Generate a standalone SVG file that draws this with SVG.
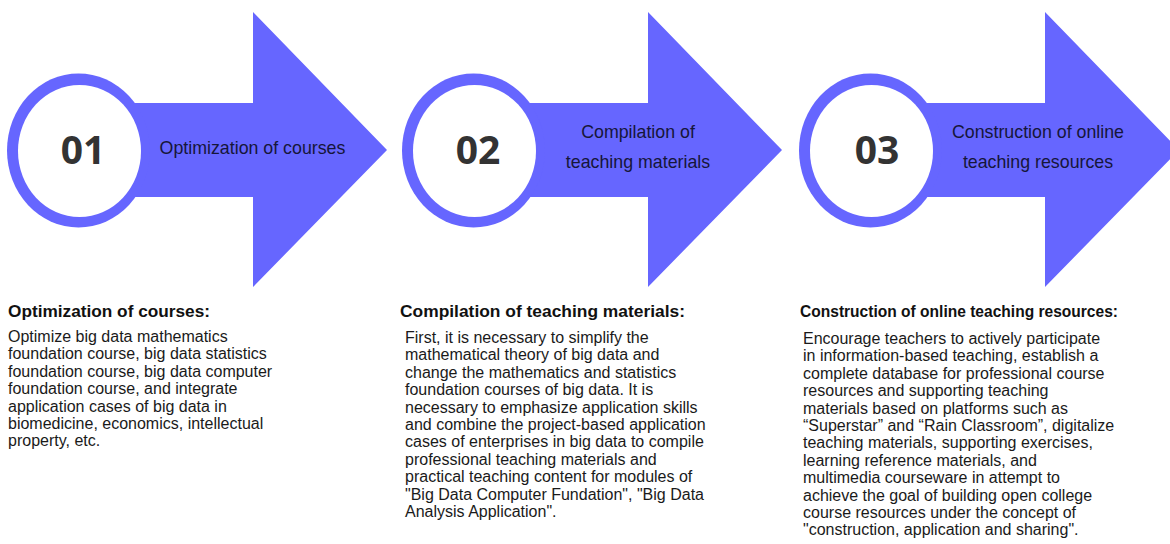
<svg xmlns="http://www.w3.org/2000/svg" width="1170" height="544" viewBox="0 0 1170 544">
  <defs>
    <style>
      .shape { fill: #6666FF; }
      .hole { fill: #FFFFFF; }
      .num { font-family: "Open Sans", "Noto Sans", sans-serif; font-weight: 700; font-size: 39px; fill: #333333; text-anchor: middle; }
      .lbl { font-family: "Liberation Sans", Arial, sans-serif; font-size: 17.8px; fill: #16163a; text-anchor: middle; }
      .head { font-family: "Liberation Sans", Arial, sans-serif; font-weight: 700; font-size: 16.5px; fill: #111111; }
      .body { font-family: "Liberation Sans", Arial, sans-serif; font-size: 16px; fill: #1a1a1a; }
    </style>
    <!-- one step: a ringed disc with a wide arrow running to the right -->
    <g id="step">
      <polygon class="shape" points="78,103 253,103 253,12 387,150 253,287 253,197 78,197"/>
      <ellipse class="shape" cx="78.5" cy="150.5" rx="71.5" ry="77"/>
      <ellipse class="hole" cx="79.5" cy="151" rx="61.5" ry="66"/>
    </g>
  </defs>
  <rect width="1170" height="544" fill="#FFFFFF"/>

  <g id="step1">
    <use href="#step"/>
    <text class="num" x="83" y="164">01</text>
    <text class="lbl" x="252.5" y="154">Optimization of courses</text>
  </g>

  <g id="step2">
    <use href="#step" x="395"/>
    <text class="num" x="478" y="164">02</text>
    <text class="lbl" x="638" y="138">Compilation of</text>
    <text class="lbl" x="638" y="168">teaching materials</text>
  </g>

  <g id="step3">
    <use href="#step" x="792"/>
    <text class="num" x="877" y="164">03</text>
    <text class="lbl" x="1038" y="138">Construction of online</text>
    <text class="lbl" x="1038" y="168">teaching resources</text>
  </g>

  <g id="connectors"/>

  <g id="desc1">
    <text class="head" x="8" y="317" textLength="202" lengthAdjust="spacingAndGlyphs">Optimization of courses:</text>
    <text class="body">
      <tspan x="8" y="342">Optimize big data mathematics</tspan>
      <tspan x="8" dy="17.4">foundation course, big data statistics</tspan>
      <tspan x="8" dy="17.4">foundation course, big data computer</tspan>
      <tspan x="8" dy="17.4">foundation course, and integrate</tspan>
      <tspan x="8" dy="17.4">application cases of big data in</tspan>
      <tspan x="8" dy="17.4">biomedicine, economics, intellectual</tspan>
      <tspan x="8" dy="17.4">property, etc.</tspan>
    </text>
  </g>

  <g id="desc2">
    <text class="head" x="400" y="317" textLength="285" lengthAdjust="spacingAndGlyphs">Compilation of teaching materials:</text>
    <text class="body">
      <tspan x="405" y="343">First, it is necessary to simplify the</tspan>
      <tspan x="405" dy="17.4">mathematical theory of big data and</tspan>
      <tspan x="405" dy="17.4">change the mathematics and statistics</tspan>
      <tspan x="405" dy="17.4">foundation courses of big data. It is</tspan>
      <tspan x="405" dy="17.4">necessary to emphasize application skills</tspan>
      <tspan x="405" dy="17.4">and combine the project-based application</tspan>
      <tspan x="405" dy="17.4">cases of enterprises in big data to compile</tspan>
      <tspan x="405" dy="17.4">professional teaching materials and</tspan>
      <tspan x="405" dy="17.4">practical teaching content for modules of</tspan>
      <tspan x="405" dy="17.4">"Big Data Computer Fundation", "Big Data</tspan>
      <tspan x="405" dy="17.4">Analysis Application".</tspan>
    </text>
  </g>

  <g id="desc3">
    <text class="head" x="800" y="317" textLength="318" lengthAdjust="spacingAndGlyphs">Construction of online teaching resources:</text>
    <text class="body">
      <tspan x="803" y="344">Encourage teachers to actively participate</tspan>
      <tspan x="803" dy="17.4">in information-based teaching, establish a</tspan>
      <tspan x="803" dy="17.4">complete database for professional course</tspan>
      <tspan x="803" dy="17.4">resources and supporting teaching</tspan>
      <tspan x="803" dy="17.4">materials based on platforms such as</tspan>
      <tspan x="803" dy="17.4">“Superstar” and “Rain Classroom”, digitalize</tspan>
      <tspan x="803" dy="17.4">teaching materials, supporting exercises,</tspan>
      <tspan x="803" dy="17.4">learning reference materials, and</tspan>
      <tspan x="803" dy="17.4">multimedia courseware in attempt to</tspan>
      <tspan x="803" dy="17.4">achieve the goal of building open college</tspan>
      <tspan x="803" dy="17.4">course resources under the concept of</tspan>
      <tspan x="803" dy="17.4">"construction, application and sharing".</tspan>
    </text>
  </g>
</svg>
